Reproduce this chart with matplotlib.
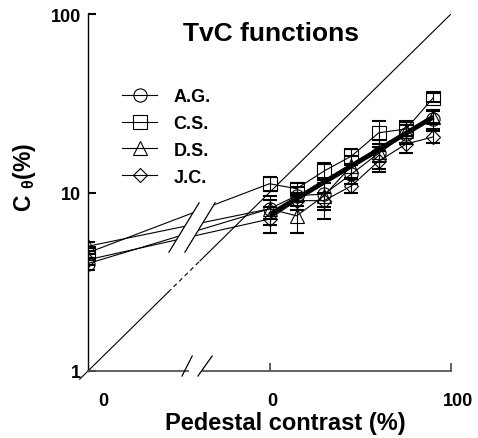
import matplotlib
matplotlib.use('Agg')
import matplotlib.pyplot as plt
from matplotlib.patches import Polygon

plt.rcParams['font.family'] = ['Liberation Sans', 'DejaVu Sans']
plt.rcParams['font.weight'] = 'bold'
plt.rcParams['mathtext.default'] = 'regular'

# pedestal contrast (%); first value is where the zero pedestal is drawn
pedestal = [1, 10, 14.1, 20, 28.3, 40, 56.6, 80]

# thresholds (%) per observer
ag = [4.0, 8.1, 9.6, 9.8, 12.7, 16.6, 21.3, 25.8]
cs = [4.6, 11.2, 10.5, 13.2, 16.0, 21.6, 22.7, 34.0]
ds = [5.0, 8.1, 7.4, 9.6, 14.1, 16.8, 22.0, 26.5]
jc = [4.2, 7.1, 9.0, 9.0, 10.9, 15.0, 18.7, 20.5]

ag_err = [0.3, 1.0, 1.2, 1.5, 1.5, 3.0, 2.5, 3.0]
cs_err = [0.3, 1.0, 0.8, 1.5, 1.5, 3.5, 2.0, 2.0]
ds_err = [0.3, 1.5, 1.5, 2.5, 2.0, 2.0, 3.0, 2.0]
jc_err = [0.3, 1.2, 1.0, 1.0, 1.0, 2.0, 2.0, 1.5]

# mean fit line
fit_x = [10, 80]
fit_y = [7.5, 26.5]

ytick_vals = [1, 10, 100]
ytick_labels = ['1', '10', '100']

fig = plt.figure(figsize=(4.78, 4.39), dpi=100)
ax = fig.add_axes([88/478, 67/439, 363/478, 357/439])
ax.set_xscale('log')
ax.set_yscale('log')
ax.set_xlim(1, 100)
ax.set_ylim(1, 100)

# diagonal, dashed across the break
ax.plot([0.9, 2.76], [0.9, 2.76], color='black', lw=0.8, clip_on=False)
ax.plot([2.76, 4.14], [2.76, 4.14], color='black', lw=0.8, ls=(0, (4, 3)))
ax.plot([4.14, 100], [4.14, 100], color='black', lw=0.8)

series = [('A.G.', ag, ag_err, 'o', 9.5),
          ('C.S.', cs, cs_err, 's', 10),
          ('D.S.', ds, ds_err, '^', 10),
          ('J.C.', jc, jc_err, 'D', 7)]

for name, vals, err, mk, ms in series:
    ax.errorbar(pedestal, vals, yerr=err, fmt='none', ecolor='black',
                elinewidth=0.8, capsize=5, capthick=1.5, zorder=2)
    ax.plot(pedestal, vals, color='black', lw=0.8, marker=mk, ms=ms,
            mfc='none', mec='black', mew=0.8, label=name, zorder=3)

ax.plot(fit_x, fit_y, color='black', lw=3.5, solid_capstyle='butt', zorder=4)

# break in the data lines
gap = Polygon([[0.223, 0.333], [0.306, 0.471], [0.350, 0.471], [0.267, 0.333]],
              closed=True, transform=ax.transAxes, facecolor='white',
              edgecolor='none', zorder=5)
ax.add_patch(gap)
ax.plot([0.223, 0.306], [0.333, 0.471], color='black', lw=0.9,
        transform=ax.transAxes, zorder=6)
ax.plot([0.267, 0.350], [0.333, 0.471], color='black', lw=0.9,
        transform=ax.transAxes, zorder=6)

# x axis with break
for s in ['top', 'right', 'bottom']:
    ax.spines[s].set_visible(False)
ax.spines['left'].set_linewidth(1.0)
axis_col = '#555555'
ax.plot([0, 0.276], [0, 0], color=axis_col, lw=1.3, transform=ax.transAxes,
        clip_on=False, zorder=6)
ax.plot([0.318, 1.0], [0, 0], color=axis_col, lw=1.3, transform=ax.transAxes,
        clip_on=False, zorder=6)
ax.plot([0.259, 0.287], [-0.014, 0.042], color='black', lw=0.9,
        transform=ax.transAxes, clip_on=False, zorder=6)
ax.plot([0.303, 0.342], [-0.014, 0.042], color='black', lw=0.9,
        transform=ax.transAxes, clip_on=False, zorder=6)

ax.set_xticks([10, 100])
ax.set_xticklabels([])
ax.xaxis.set_minor_locator(matplotlib.ticker.NullLocator())
ax.tick_params(axis='x', direction='in', length=6, width=1.3, color=axis_col)
ax.set_yticks(ytick_vals)
ax.set_yticklabels(ytick_labels)
ax.yaxis.set_minor_locator(matplotlib.ticker.NullLocator())
ax.tick_params(axis='y', direction='in', length=6, width=1.5, pad=5,
               labelsize=13)

for xf, t in [(0.041, '0'), (0.507, '0'), (1.019, '100')]:
    ax.text(xf, -0.084, t, transform=ax.transAxes, ha='center', va='center',
            fontsize=13, fontweight='bold')

ax.text(0.504, 0.947, 'TvC functions', transform=ax.transAxes, ha='center',
        va='center', fontsize=19, fontweight='bold')
fig.text(285/478, 1 - 424/439, 'Pedestal contrast (%)', ha='center',
         va='center', fontsize=17, fontweight='bold')
fig.text(25/478, 1 - 178/439, r'C $_{\theta}$(%)', ha='center', va='center',
         rotation=90, fontsize=16.5, fontweight='bold')

ax.legend(loc='upper left', bbox_to_anchor=(0.094, 0.793), frameon=False,
          borderpad=0, borderaxespad=0, handlelength=1.95, handletextpad=0.9,
          labelspacing=0.55, numpoints=1, prop={'size': 13, 'weight': 'bold'})

fig.savefig('out.png', dpi=100)
